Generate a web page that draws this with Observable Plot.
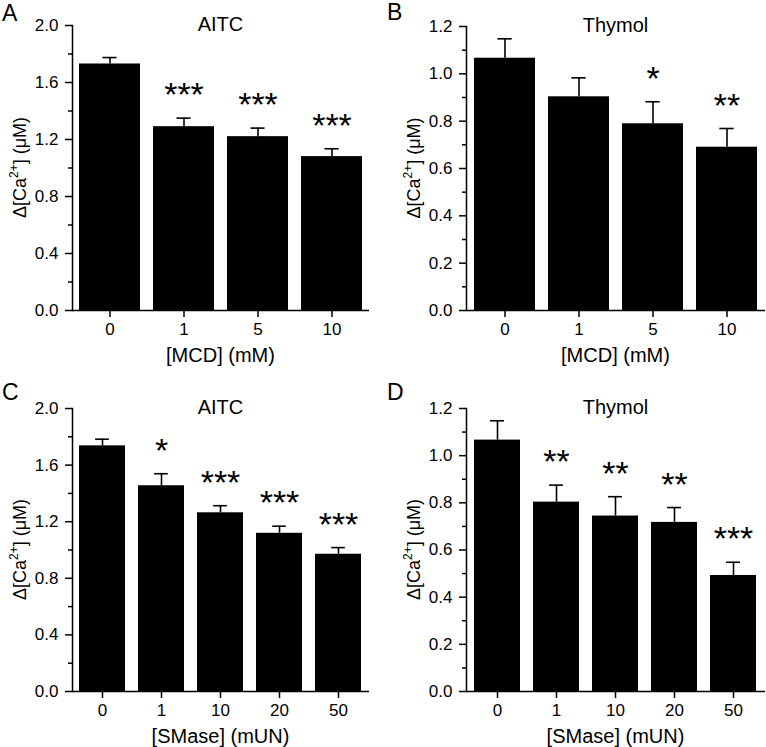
<!DOCTYPE html>
<html><head><meta charset="utf-8">
<script src="https://cdn.jsdelivr.net/npm/d3@7"></script>
<script src="https://cdn.jsdelivr.net/npm/@observablehq/plot@0.6"></script>
<style>
body{margin:0;background:#fff;}
#fig{position:relative;width:766px;height:747px;font-family:"Liberation Sans",Arial,sans-serif;}
.panel{position:absolute;}
</style></head><body><div id="fig"></div>
<script>
// ---- data ----
const mcdDoses = ["0", "1", "5", "10"];
const smaseDoses = ["0", "1", "10", "20", "50"];

const aitcMcdMean = [1.73, 1.29, 1.22, 1.08];
const aitcMcdErr = [0.045, 0.06, 0.06, 0.055];
const aitcMcdSig = ["", "***", "***", "***"];

const thymolMcdMean = [1.066, 0.903, 0.789, 0.690];
const thymolMcdErr = [0.082, 0.080, 0.093, 0.079];
const thymolMcdSig = ["", "", "*", "**"];

const aitcSmMean = [1.736, 1.454, 1.263, 1.118, 0.970];
const aitcSmErr = [0.047, 0.085, 0.050, 0.050, 0.047];
const aitcSmSig = ["", "*", "***", "***", "***"];

const thymolSmMean = [1.066, 0.803, 0.744, 0.717, 0.492];
const thymolSmErr = [0.082, 0.072, 0.082, 0.063, 0.056];
const thymolSmSig = ["", "**", "**", "**", "***"];

const aitcMajorTicks = [0, 0.4, 0.8, 1.2, 1.6, 2.0];
const aitcMinorTicks = [0.2, 0.6, 1.0, 1.4, 1.8];
const thymolMajorTicks = [0, 0.2, 0.4, 0.6, 0.8, 1.0, 1.2];
const thymolMinorTicks = [0.1, 0.3, 0.5, 0.7, 0.9, 1.1];

const FONT = '"Liberation Sans", Arial, sans-serif';
const fig = d3.select("#fig");

function panel(cfg) {
  const data = cfg.doses.map((d, i) => ({dose: d, mean: cfg.means[i], err: cfg.errs[i], sig: cfg.sigs[i]}));
  const m = cfg.margins;
  const bandW = (cfg.width - m.left - m.right) / (cfg.doses.length - cfg.pInner + 2 * cfg.pOuter) * (1 - cfg.pInner);
  const capInset = Math.max(0, (bandW - 14) / 2);
  const chart = Plot.plot({
    width: cfg.width,
    height: cfg.height,
    marginLeft: m.left, marginRight: m.right, marginTop: m.top, marginBottom: m.bottom,
    style: {fontFamily: FONT, fontSize: "17px", color: "black", background: "white", overflow: "visible"},
    x: {type: "band", domain: cfg.doses, paddingInner: cfg.pInner, paddingOuter: cfg.pOuter},
    y: {domain: [0, cfg.yMax]},
    marks: [
      Plot.barY(data, {x: "dose", y: "mean", fill: "black"}),
      Plot.ruleX(data, {x: "dose", y1: "mean", y2: d => d.mean + d.err, stroke: "black", strokeWidth: 1.6}),
      Plot.tickY(data, {x: "dose", y: d => d.mean + d.err, stroke: "black", strokeWidth: 1.6, insetLeft: capInset, insetRight: capInset}),
      Plot.text(data, {x: "dose", y: d => d.mean + d.err, text: "sig", dy: -12, lineAnchor: "bottom", fontSize: 34, fill: "black"}),
      Plot.axisY(cfg.major, {tickSize: 7, tickPadding: 7, tickFormat: d3.format(".1f"), label: null, strokeWidth: 1.5, fontSize: 17}),
      Plot.axisY(cfg.minor, {tickSize: 4, tickFormat: () => "", label: null, strokeWidth: 1.5}),
      Plot.axisX({tickSize: 7, tickPadding: 5, label: null, strokeWidth: 1.5, fontSize: 17}),
      Plot.ruleY([0], {stroke: "black", strokeWidth: 1.5}),
      Plot.frame({anchor: "left", stroke: "black", strokeWidth: 1.5})
    ]
  });
  const div = fig.append("div").attr("class", "panel")
    .style("left", cfg.left + "px").style("top", cfg.top + "px");
  div.node().appendChild(chart);
  const svg = d3.select(chart);
  const cx = (m.left + cfg.width - m.right) / 2;
  const cy = (m.top + cfg.height - m.bottom) / 2;
  const g = svg.append("g").attr("font-family", FONT).attr("fill", "black");
  // panel letter
  g.append("text").attr("x", cfg.letterX).attr("y", cfg.letterY).attr("text-anchor", "start").attr("font-size", 23).text(cfg.letter);
  // title
  g.append("text").attr("x", cx).attr("y", m.top + 6).attr("text-anchor", "middle").attr("font-size", 20).text(cfg.title);
  // x title
  g.append("text").attr("x", cx).attr("y", cfg.height - m.bottom + 52).attr("text-anchor", "middle").attr("font-size", 20).text(cfg.xTitle);
  // y title with superscript
  const yt = g.append("text").attr("transform", `translate(${m.left - 46},${cy}) rotate(-90)`)
    .attr("text-anchor", "middle").attr("font-size", 18);
  yt.append("tspan").text("\u0394[Ca");
  yt.append("tspan").attr("dy", -8).attr("font-size", 12).text("2+");
  yt.append("tspan").attr("dy", 8).text("] (\u03bcM)");
}

panel({doses: mcdDoses, means: aitcMcdMean, errs: aitcMcdErr, sigs: aitcMcdSig,
  yMax: 2.0, major: aitcMajorTicks, minor: aitcMinorTicks, title: "AITC", letter: "A", xTitle: "[MCD] (mM)",
  left: 0, top: 0, width: 383, height: 370, margins: {left: 72, right: 14, top: 25, bottom: 60},
  pInner: 0.18, pOuter: 0.09, letterX: 2, letterY: 21});

panel({doses: mcdDoses, means: thymolMcdMean, errs: thymolMcdErr, sigs: thymolMcdSig,
  yMax: 1.2, major: thymolMajorTicks, minor: thymolMinorTicks, title: "Thymol", letter: "B", xTitle: "[MCD] (mM)",
  left: 383, top: 0, width: 383, height: 370, margins: {left: 83, right: 1, top: 26, bottom: 60},
  pInner: 0.18, pOuter: 0.11, letterX: 4, letterY: 20});

panel({doses: smaseDoses, means: aitcSmMean, errs: aitcSmErr, sigs: aitcSmSig,
  yMax: 2.0, major: aitcMajorTicks, minor: aitcMinorTicks, title: "AITC", letter: "C", xTitle: "[SMase] (mUN)",
  left: 0, top: 370, width: 383, height: 377, margins: {left: 72, right: 14, top: 38, bottom: 56},
  pInner: 0.22, pOuter: 0.11, letterX: 2, letterY: 30});

panel({doses: smaseDoses, means: thymolSmMean, errs: thymolSmErr, sigs: thymolSmSig,
  yMax: 1.2, major: thymolMajorTicks, minor: thymolMinorTicks, title: "Thymol", letter: "D", xTitle: "[SMase] (mUN)",
  left: 383, top: 370, width: 383, height: 377, margins: {left: 83, right: 1, top: 38, bottom: 56},
  pInner: 0.22, pOuter: 0.14, letterX: 4, letterY: 30});
</script>
</body></html>
